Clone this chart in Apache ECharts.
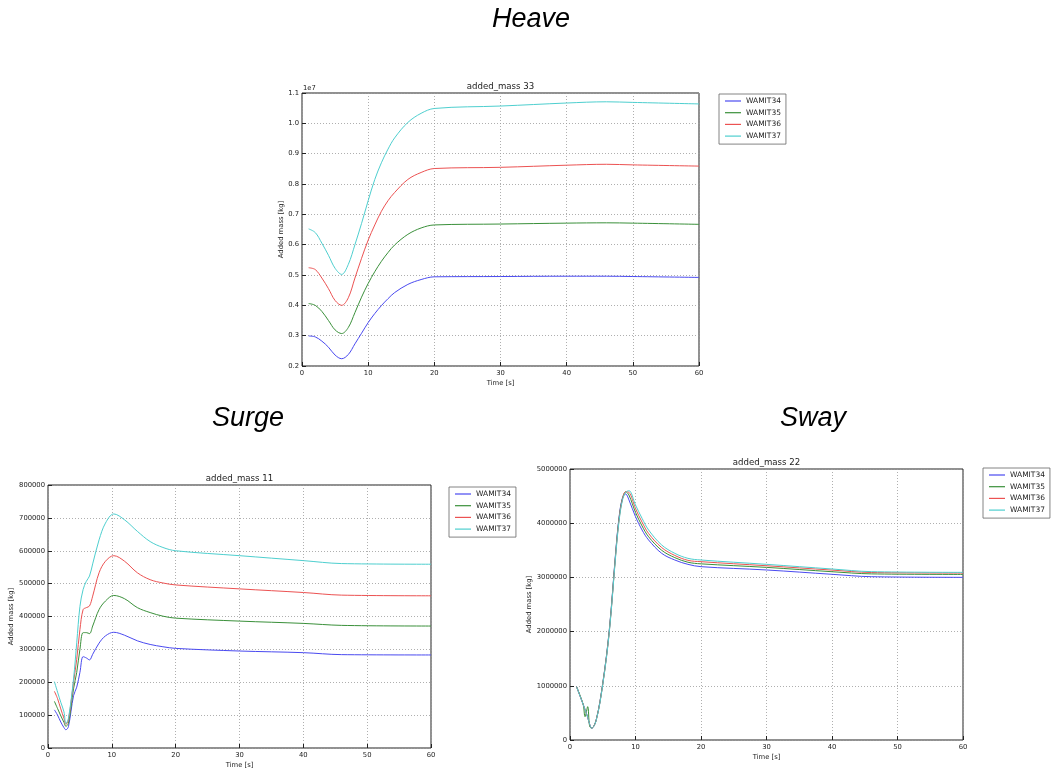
<!DOCTYPE html>
<html><head><meta charset="utf-8">
<script src="https://cdn.jsdelivr.net/npm/echarts@6/dist/echarts.min.js"></script>
<style>html,body{margin:0;padding:0;background:#fff}#c{width:1052px;height:770px}</style>
</head><body><div id="c"></div>
<script>
// ---------- data ----------
const seriesNames = ['WAMIT34', 'WAMIT35', 'WAMIT36', 'WAMIT37'];
const panelTitles = ['Heave', 'Surge', 'Sway'];
const chartTitles = ['added_mass 33', 'added_mass 11', 'added_mass 22'];
const xAxisTitle = 'Time [s]';
const yAxisTitle = 'Added mass [kg]';

// Heave (added_mass 33), values in kg
const heaveTime = [1, 2, 3, 4, 5, 6, 7, 8, 9, 10, 11, 12, 13, 14, 16, 18, 20, 30, 40, 46, 50, 60];
const heave34 = [2990000, 2960000, 2820000, 2620000, 2360000, 2240000, 2380000, 2730000, 3080000, 3430000, 3730000, 3990000, 4220000, 4420000, 4690000, 4850000, 4940000, 4950000, 4960000, 4960000, 4950000, 4920000];
const heave35 = [4060000, 4000000, 3800000, 3500000, 3190000, 3070000, 3270000, 3760000, 4270000, 4720000, 5110000, 5450000, 5740000, 5990000, 6340000, 6550000, 6650000, 6680000, 6710000, 6720000, 6710000, 6670000];
const heave36 = [5240000, 5180000, 4900000, 4550000, 4160000, 4000000, 4250000, 4900000, 5550000, 6150000, 6650000, 7100000, 7450000, 7720000, 8150000, 8380000, 8510000, 8550000, 8620000, 8650000, 8630000, 8590000];
const heave37 = [6520000, 6400000, 6050000, 5650000, 5220000, 5020000, 5350000, 6000000, 6700000, 7450000, 8150000, 8700000, 9150000, 9520000, 10030000, 10330000, 10490000, 10570000, 10670000, 10710000, 10690000, 10640000];

// Surge (added_mass 11)
const surgeTime = [1, 1.5, 2, 2.5, 2.8, 3.2, 4, 4.5, 5, 5.5, 6, 6.5, 7, 8, 9, 10.3, 12, 14, 16, 18, 20, 30, 40, 46, 60];
const surge34 = [116000, 100000, 79000, 62000, 55500, 65000, 159000, 185000, 230000, 278000, 274000, 268000, 285000, 319000, 341000, 352000, 343000, 326000, 315000, 308000, 303000, 295000, 290000, 284000, 283000];
const surge35 = [142000, 120000, 98000, 78000, 66000, 75000, 180000, 230000, 300000, 351000, 351000, 348000, 371000, 421000, 447000, 464000, 454000, 427000, 412000, 401000, 395000, 386000, 379000, 373000, 371000];
const surge36 = [172500, 150000, 119000, 90000, 72000, 85000, 200000, 270000, 360000, 421000, 427000, 432000, 462000, 533000, 568000, 585000, 568000, 533000, 512000, 502000, 496000, 484000, 473000, 465000, 463000];
const surge37 = [202000, 170000, 139000, 110000, 74000, 90000, 210000, 320000, 430000, 482000, 507000, 523000, 560000, 633000, 684000, 712000, 694000, 659000, 628000, 610000, 600000, 585000, 570000, 561000, 559000];

// Sway (added_mass 22)
const swayTime = [1, 2, 2.3, 2.7, 3, 3.3, 4, 5, 6, 7, 7.5, 8, 8.5, 9, 10, 11, 12, 14, 16, 18, 20, 30, 40, 46, 60];
const sway34 = [984000, 660000, 560000, 420000, 290000, 215000, 370000, 1045000, 2030000, 3505000, 4120000, 4460000, 4540000, 4430000, 4120000, 3875000, 3690000, 3444000, 3321000, 3241000, 3198000, 3137000, 3057000, 3013000, 3001000];
const sway35 = [984000, 660000, 430000, 615000, 250000, 220000, 370000, 1040000, 2020000, 3480000, 4100000, 4450000, 4580000, 4520000, 4200000, 3950000, 3750000, 3500000, 3365000, 3280000, 3250000, 3185000, 3105000, 3065000, 3055000];
const sway36 = [984000, 660000, 560000, 420000, 290000, 215000, 365000, 1030000, 2000000, 3460000, 4080000, 4440000, 4580000, 4570000, 4270000, 4020000, 3810000, 3550000, 3405000, 3315000, 3290000, 3215000, 3135000, 3090000, 3080000];
const sway37 = [984000, 660000, 560000, 420000, 290000, 215000, 360000, 1020000, 1990000, 3440000, 4050000, 4420000, 4570000, 4600000, 4336000, 4090000, 3875000, 3598000, 3444000, 3352000, 3321000, 3241000, 3155000, 3106000, 3093000];

// ---------- styling ----------
const colors = ['#4a4af0', '#3a903a', '#ec5252', '#4ecfcf'];
const FONT = 'DejaVu Sans';
const grids = [
  {left: 302, top: 93, width: 397, height: 273},
  {left: 48, top: 485, width: 383, height: 264},
  {left: 570, top: 469, width: 393, height: 271}
];
const yCfg = [
  {min: 2000000, max: 11000000, interval: 1000000, fmt: v => (v / 1e7).toFixed(1), nameGap: 16},
  {min: 0, max: 800000, interval: 100000, fmt: v => String(v), nameGap: 31},
  {min: 0, max: 5000000, interval: 1000000, fmt: v => String(v), nameGap: 36}
];
const panels = [
  {time: heaveTime, ys: [heave34, heave35, heave36, heave37]},
  {time: surgeTime, ys: [surge34, surge35, surge36, surge37]},
  {time: swayTime, ys: [sway34, sway35, sway36, sway37]}
];
const legendPos = [{left: 719, top: 94}, {left: 449, top: 487}, {left: 983, top: 468}];
const bigTitlePos = [[531, 19], [248, 418], [813, 418]];

const axisText = {fontFamily: FONT, fontSize: 6.8, color: '#222'};

const option = {
  animation: false,
  backgroundColor: '#fff',
  grid: grids.map(g => Object.assign({show: true, borderColor: '#222', borderWidth: 1, backgroundColor: '#fff'}, g)),
  xAxis: grids.map((g, i) => ({
    type: 'value', gridIndex: i, min: 0, max: 60, interval: 10,
    name: xAxisTitle, nameLocation: 'middle', nameGap: 14,
    nameTextStyle: axisText,
    axisLine: {show: false},
    axisTick: {show: true, inside: true, length: 4, lineStyle: {color: '#222'}},
    axisLabel: Object.assign({margin: 4}, axisText),
    splitLine: {show: true, lineStyle: {color: '#9a9a9a', type: [1, 2], width: 0.8}}
  })),
  yAxis: yCfg.map((c, i) => ({
    type: 'value', gridIndex: i, min: c.min, max: c.max, interval: c.interval,
    name: yAxisTitle, nameLocation: 'middle', nameGap: c.nameGap, nameRotate: 90,
    nameTextStyle: axisText,
    axisLine: {show: false},
    axisTick: {show: true, inside: true, length: 4, lineStyle: {color: '#222'}},
    axisLabel: Object.assign({margin: 3, formatter: c.fmt}, axisText),
    splitLine: {show: true, lineStyle: {color: '#9a9a9a', type: [1, 2], width: 0.8}}
  })),
  legend: legendPos.map(p => ({
    orient: 'vertical', left: p.left, top: p.top,
    data: seriesNames,
    icon: 'rect', itemWidth: 16, itemHeight: 1.2, itemGap: 1.7,
    padding: [2, 5, 3, 6],
    borderColor: '#666', borderWidth: 0.8, backgroundColor: '#fff',
    selectedMode: false,
    textStyle: {fontFamily: FONT, fontSize: 7.5, color: '#222', lineHeight: 10, padding: [0, 0, 0, 0]}
  })),
  series: [],
  graphic: []
};

panels.forEach((p, gi) => {
  p.ys.forEach((ys, si) => {
    option.series.push({
      type: 'line', name: seriesNames[si], xAxisIndex: gi, yAxisIndex: gi,
      data: p.time.map((t, k) => [t, ys[k]]),
      showSymbol: false, smooth: 0.35,
      lineStyle: {color: colors[si], width: 1},
      itemStyle: {color: colors[si]}
    });
  });
  const g = grids[gi];
  option.graphic.push({
    type: 'text', x: g.left + g.width / 2, y: g.top - 6,
    style: {text: chartTitles[gi], font: '8.6px "DejaVu Sans"', fill: '#222', textAlign: 'center', textVerticalAlign: 'middle'}
  });
  option.graphic.push({
    type: 'text', x: bigTitlePos[gi][0], y: bigTitlePos[gi][1],
    style: {text: panelTitles[gi], font: 'italic 27px "Liberation Sans"', fill: '#000', textAlign: 'center', textVerticalAlign: 'middle'}
  });
});
option.graphic.push({
  type: 'text', x: 303, y: 88,
  style: {text: '1e7', font: '6.8px "DejaVu Sans"', fill: '#222', textAlign: 'left', textVerticalAlign: 'middle'}
});

const chart = echarts.init(document.getElementById('c'), null, {renderer: 'canvas'});
chart.setOption(option);
</script>
</body></html>
